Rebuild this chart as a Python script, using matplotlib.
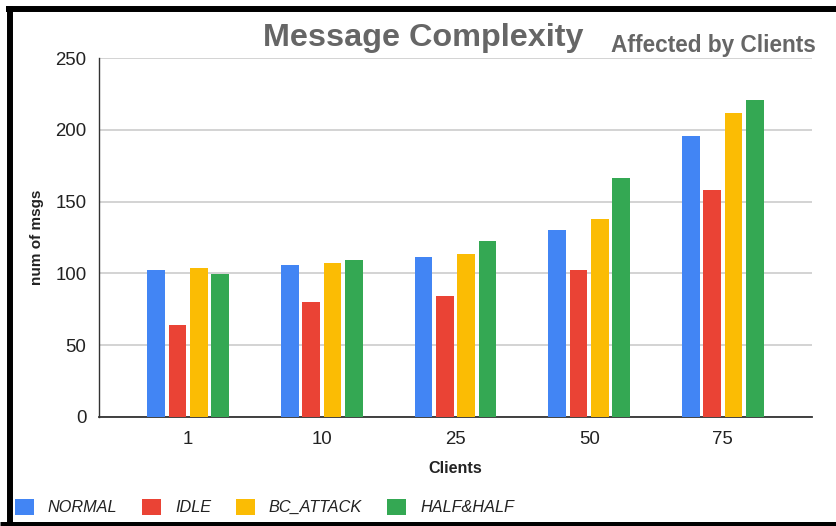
import matplotlib
matplotlib.use("Agg")
import matplotlib.pyplot as plt
from matplotlib.lines import Line2D
from matplotlib.patches import Patch
import numpy as np

plt.rcParams['font.family'] = ['Liberation Sans', 'DejaVu Sans']

categories = ["1", "10", "25", "50", "75"]
series_names = ["NORMAL", "IDLE", "BC_ATTACK", "HALF&HALF"]
normal = [102.5, 106, 111.7, 130, 196]
idle = [64, 80, 84.5, 102.5, 158.3]
bc_attack = [103.5, 107, 113.8, 137.8, 211.8]
half_half = [99.4, 109.4, 122.9, 166.2, 220.7]
series_values = [normal, idle, bc_attack, half_half]
colors = ["#4285F4", "#EA4335", "#FBBC04", "#34A853"]

W, H = 837, 526
fig = plt.figure(figsize=(W / 100, H / 100), dpi=100)
ax = fig.add_axes([99 / W, 1 - 416.7 / H, 713 / W, (416.7 - 58.3) / H])

x = np.arange(len(categories))
pitch = 0.16
width = 0.131
for i, (vals, c) in enumerate(zip(series_values, colors)):
    ax.bar(x + (i - 1.5) * pitch, vals, width=width, color=c, zorder=3)

ax.set_xlim(-0.667, len(categories) - 1 + 0.667)
ax.set_ylim(0, 250)
ax.set_yticks([0, 50, 100, 150, 200, 250])
ax.set_xticks(x)
ax.set_xticklabels(categories)
ax.yaxis.grid(True, color="#cccccc", linewidth=1.2, zorder=0)
ax.set_axisbelow(True)
for s in ["top", "right"]:
    ax.spines[s].set_visible(False)
ax.spines["left"].set_color("#333333")
ax.spines["left"].set_linewidth(1.0)
ax.spines["bottom"].set_color("#333333")
ax.spines["bottom"].set_linewidth(1.3)
ax.tick_params(axis="both", length=0, labelsize=13.4, labelcolor="#222222")
ax.tick_params(axis="y", pad=9)
ax.tick_params(axis="x", pad=10)

ax.set_xlabel("Clients", fontsize=11.6, fontweight="bold", color="#222222", labelpad=10)
ax.set_ylabel("num of msgs", fontsize=11, fontweight="bold", color="#222222", labelpad=8)

fig.text(263 / W, 1 - 46 / H, "Message Complexity", fontsize=23.3, fontweight="bold",
         color="#666666", ha="left", va="baseline")
fig.text(816 / W, 1 - 52 / H, "Affected by Clients", fontsize=16.3, fontweight="bold",
         color="#666666", ha="right", va="baseline")

handles = [Patch(facecolor=c, edgecolor="none") for c in colors]
leg = fig.legend(handles, series_names, loc="center left", bbox_to_anchor=(15 / W, 1 - 507 / H),
                 ncol=4, frameon=False, borderpad=0, borderaxespad=0,
                 handlelength=1.17, handleheight=1.17,
                 handletextpad=0.84, columnspacing=1.55,
                 prop={"style": "italic", "size": 11.7})
for t in leg.get_texts():
    t.set_color("#222222")

# outer frame
fig.add_artist(Line2D([6 / W, 1], [1 - 9 / H, 1 - 9 / H], color="black", linewidth=4.3,
                      transform=fig.transFigure, solid_capstyle="butt"))
fig.add_artist(Line2D([9.5 / W, 9.5 / W], [0, 1 - 6 / H], color="black", linewidth=4.3,
                      transform=fig.transFigure, solid_capstyle="butt"))
fig.add_artist(Line2D([0, 1], [2 / H, 2 / H], color="black", linewidth=3.6,
                      transform=fig.transFigure, solid_capstyle="butt"))

fig.savefig("out.png", dpi=100, facecolor="white")
